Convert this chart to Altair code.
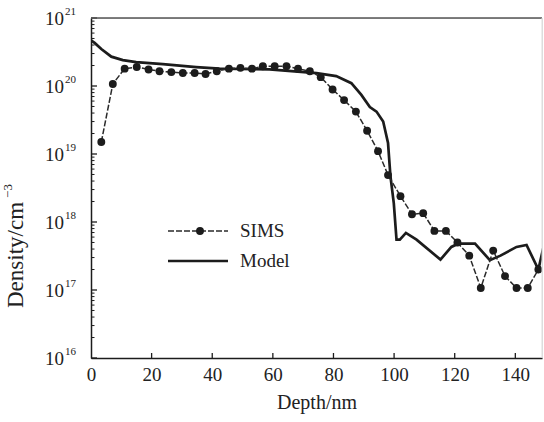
import altair as alt
import pandas as pd

# ---- data ----
sims_depth = [3.4, 7.2, 11.1, 15.1, 19.0, 22.6, 26.5, 30.3, 34.2, 37.8, 41.5, 45.5, 49.3,
              53.1, 56.7, 60.6, 64.5, 68.3, 72.2, 75.8, 79.7, 83.5, 87.4, 91.1, 94.7, 98.0,
              102.1, 105.9, 109.6, 113.3, 117.1, 120.9, 124.8, 128.6, 132.7, 136.6, 140.4,
              144.1, 147.6]
sims_density = [1.5e19, 1.07e20, 1.8e20, 1.9e20, 1.75e20, 1.65e20, 1.6e20, 1.55e20, 1.55e20,
                1.5e20, 1.65e20, 1.8e20, 1.85e20, 1.8e20, 1.95e20, 1.95e20, 1.95e20, 1.8e20,
                1.65e20, 1.35e20, 8.9e19, 6.2e19, 4.2e19, 2.2e19, 1.1e19, 4.9e18, 2.4e18,
                1.3e18, 1.35e18, 7.4e17, 7.4e17, 5.0e17, 3.2e17, 1.07e17, 3.8e17, 1.6e17,
                1.07e17, 1.07e17, 2.0e17]

model_depth = [0, 1.2, 3.4, 6.7, 10.5, 14.9, 23.7, 34.7, 42.4, 58.9, 74.4, 80.9, 85.9, 89.2,
               92.0, 94.2, 96.4, 98.0, 98.8, 99.9, 100.8, 101.9, 103.9, 107.4, 115.3, 118.9,
               121.1, 126.7, 131.6, 135.1, 140.4, 143.7, 147.6, 149.2]
model_density = [4.7e20, 4.3e20, 3.5e20, 2.7e20, 2.4e20, 2.25e20, 2.1e20, 1.9e20, 1.8e20,
                 1.75e20, 1.55e20, 1.4e20, 1.1e20, 7.4e19, 4.9e19, 4.2e19, 3.0e19, 1.45e19,
                 4.7e18, 1.9e18, 5.5e17, 5.5e17, 6.9e17, 5.5e17, 2.8e17, 4.3e17, 4.8e17,
                 4.8e17, 2.75e17, 3.2e17, 4.3e17, 4.6e17, 2.0e17, 4.1e17]

x_tick_values = [0, 20, 40, 60, 80, 100, 120, 140]
decade_values = [1e16, 1e17, 1e18, 1e19, 1e20, 1e21]
decade_exponents = ["16", "17", "18", "19", "20", "21"]
minor_values = [m * 10.0 ** k for k in range(16, 21) for m in range(2, 10)]
legend_labels = ["SIMS", "Model"]

# ---- layout ----
W, H = 451, 340
FONT = "Liberation Serif, Times New Roman, serif"
INK = "#1c1c1c"
TXT = "#222"

sims_df = pd.DataFrame({"depth": sims_depth, "density": sims_density})
model_df = pd.DataFrame({"depth": model_depth, "density": model_density})
dec_df = pd.DataFrame({"v": decade_values, "e": decade_exponents})
minor_df = pd.DataFrame({"v": minor_values})
xt_df = pd.DataFrame({"t": x_tick_values[1:]})
one = pd.DataFrame({"a": [0]})

xs = alt.Scale(domain=[0, 148.8], nice=False, zero=False)
ys = alt.Scale(type="log", domain=[1e16, 1e21], nice=False)

x_axis = alt.Axis(values=x_tick_values, ticks=False, grid=False, domainColor=INK,
                  domainWidth=1.5, labelFont=FONT, labelFontSize=19, labelColor=TXT,
                  labelPadding=7, labelFlush=False, title="Depth/nm", titleFont=FONT,
                  titleFontSize=20, titleFontWeight="normal", titleColor=TXT,
                  titlePadding=8)
y_axis = alt.Axis(labels=False, ticks=False, grid=False, title=None, domainColor=INK,
                  domainWidth=1.5)

model_line = alt.Chart(model_df).mark_line(color=INK, strokeWidth=2.7, clip=True).encode(
    x=alt.X("depth:Q", scale=xs, axis=x_axis),
    y=alt.Y("density:Q", scale=ys, axis=y_axis),
)
sims_line = alt.Chart(sims_df).mark_line(color="#2a2a2a", strokeWidth=1.5, strokeDash=[6, 2],
                                         clip=True).encode(
    x=alt.X("depth:Q", scale=xs), y=alt.Y("density:Q", scale=ys))
sims_pts = alt.Chart(sims_df).mark_circle(size=62, color=INK, opacity=1, clip=True).encode(
    x=alt.X("depth:Q", scale=xs), y=alt.Y("density:Q", scale=ys))

major_ticks = alt.Chart(dec_df).mark_rule(color=INK, strokeWidth=1.3).encode(
    y=alt.Y("v:Q", scale=ys), x=alt.value(0), x2=alt.value(6))
minor_ticks = alt.Chart(minor_df).mark_rule(color=INK, strokeWidth=1).encode(
    y=alt.Y("v:Q", scale=ys), x=alt.value(0), x2=alt.value(3.5))
x_ticks = alt.Chart(xt_df).mark_rule(color=INK, strokeWidth=1.3).encode(
    x=alt.X("t:Q", scale=xs), y=alt.value(H), y2=alt.value(H - 5))

ylab_base = alt.Chart(dec_df).mark_text(text="10", align="right", baseline="middle",
                                        font=FONT, fontSize=19, color=TXT, dy=1).encode(
    y=alt.Y("v:Q", scale=ys), x=alt.value(-27))
ylab_exp = alt.Chart(dec_df).mark_text(align="left", baseline="middle", font=FONT,
                                       fontSize=11, color=TXT, dx=1, dy=-6).encode(
    y=alt.Y("v:Q", scale=ys), x=alt.value(-27), text="e:N")

ytitle = alt.Chart(one).mark_text(text="Density/cm", angle=270, align="center",
                                  baseline="middle", font=FONT, fontSize=23,
                                  color=TXT).encode(x=alt.value(-75), y=alt.value(237))
ytitle_sup = alt.Chart(one).mark_text(text="−3", angle=270, align="center",
                                      baseline="middle", font=FONT, fontSize=13,
                                      color=TXT).encode(x=alt.value(-83), y=alt.value(173))

top_line = alt.Chart(one).mark_rule(color="#555", strokeWidth=1.6).encode(
    x=alt.value(0), x2=alt.value(W), y=alt.value(0))
right_line = alt.Chart(one).mark_rule(color="#ddd", strokeWidth=1).encode(
    x=alt.value(W), y=alt.value(0), y2=alt.value(H))

leg_sims_line = alt.Chart(one).mark_rule(color="#2a2a2a", strokeWidth=1.5,
                                         strokeDash=[6, 2]).encode(
    x=alt.value(77), x2=alt.value(137), y=alt.value(213))
leg_sims_pt = alt.Chart(one).mark_circle(size=62, color=INK, opacity=1).encode(
    x=alt.value(109), y=alt.value(213))
leg_model_line = alt.Chart(one).mark_rule(color=INK, strokeWidth=2.7).encode(
    x=alt.value(77), x2=alt.value(137), y=alt.value(243))
leg_sims_txt = alt.Chart(one).mark_text(text=legend_labels[0], align="left",
                                        baseline="middle", font=FONT, fontSize=19,
                                        color=TXT).encode(x=alt.value(149), y=alt.value(213))
leg_model_txt = alt.Chart(one).mark_text(text=legend_labels[1], align="left",
                                         baseline="middle", font=FONT, fontSize=19,
                                         color=TXT).encode(x=alt.value(149), y=alt.value(243))

chart = alt.layer(
    model_line, sims_line, sims_pts, major_ticks, minor_ticks, x_ticks,
    ylab_base, ylab_exp, ytitle, ytitle_sup, top_line, right_line,
    leg_sims_line, leg_sims_pt, leg_model_line, leg_sims_txt, leg_model_txt,
).properties(
    width=W, height=H,
    autosize=alt.AutoSizeParams(type="none"),
    padding={"left": 91, "top": 18, "right": 2, "bottom": 64},
).configure_view(stroke=None).configure(background="white")

chart.save("out.html", embed_options={"renderer": "svg", "actions": False})
